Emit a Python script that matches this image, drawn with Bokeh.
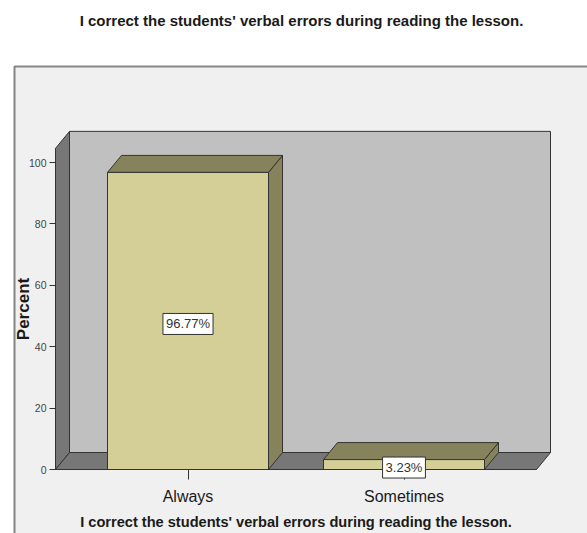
from bokeh.plotting import figure
from bokeh.models import Range1d, FixedTicker, BoxAnnotation, Label, ColumnDataSource
from bokeh.embed import file_html
from bokeh.resources import INLINE

# ---- data ----
title_text = "I correct the students' verbal errors during reading the lesson."
categories = ["Always", "Sometimes"]
percents = [96.77, 3.23]
y_ticks = [0, 20, 40, 60, 80, 100]

W, H = 587, 533
# pixel placement of the value scale: category 0 at X0, 216 px per category,
# zero percent at Y0, 3.07 px per percent
X0, XS = 187.5, 216.0
Y0, YS = 469.0, 3.07


def px_x(px):
    return (px - X0) / XS


def px_y(py):
    return (Y0 - py) / YS


# ---- 3-D box geometry (axis units) ----
x_lo, x_hi = px_x(55), px_x(536)  # front floor edge
wall_top = 104.6                  # height of the walls
half_w = 80.5 / XS                # half bar width
dx, dy = 14 / XS, 17 / YS         # depth offset

FRONT = "#d3cf97"
SHADE = "#86825c"
WALL = "#c0c0c0"
SIDE = "#777777"
EDGE = "#333333"
FONT = "Liberation Sans"

p = figure(width=W, height=H, output_backend="svg", toolbar_location=None,
           x_range=Range1d(px_x(0), px_x(W)), y_range=Range1d(px_y(H), px_y(0)),
           min_border=0)
p.background_fill_color = "white"
p.border_fill_color = "white"
p.outline_line_color = None
p.grid.visible = False

# chart panel with its grey frame
p.add_layout(BoxAnnotation(left=14, right=700, top=66, bottom=700,
                           left_units="canvas", right_units="canvas",
                           top_units="canvas", bottom_units="canvas",
                           fill_color="#f0f0f0", fill_alpha=1.0,
                           line_color="#858585", line_alpha=1.0, line_width=2,
                           level="underlay"))

# walls and floor
p.quad(left=[x_lo + dx], right=[x_hi + dx], bottom=[dy], top=[wall_top + dy],
       fill_color=WALL, line_color=EDGE, line_width=1)
p.patch([x_lo, x_lo, x_lo + dx, x_lo + dx], [0, wall_top, wall_top + dy, dy],
        fill_color=SIDE, line_color=EDGE, line_width=1)
p.patch([x_lo, x_hi, x_hi + dx, x_lo + dx], [0, 0, dy, dy],
        fill_color=SIDE, line_color=EDGE, line_width=1)

# bars: side, top, front
idx = list(range(len(categories)))
side_xs, side_ys, top_xs, top_ys = [], [], [], []
for i, v in zip(idx, percents):
    l, r = i - half_w, i + half_w
    side_xs.append([r, r, r + dx, r + dx])
    side_ys.append([0, v, v + dy, dy])
    top_xs.append([l, r, r + dx, l + dx])
    top_ys.append([v, v, v + dy, v + dy])
p.patches(side_xs, side_ys, fill_color=SHADE, line_color=EDGE, line_width=1)
p.patches(top_xs, top_ys, fill_color=SHADE, line_color=EDGE, line_width=1)
src = ColumnDataSource(dict(x=idx, top=percents,
                            left=[i - half_w for i in idx], right=[i + half_w for i in idx]))
p.quad(left="left", right="right", bottom=0, top="top", source=src,
       fill_color=FRONT, line_color=EDGE, line_width=1)

# value labels
for i, v in zip(idx, percents):
    p.add_layout(Label(x=i, y=v / 2, y_offset=-3, text=f"{v:.2f}%",
                       text_align="center", text_baseline="middle",
                       text_font=FONT, text_font_size="13px", text_color="#333333",
                       background_fill_color="white", border_line_color=EDGE,
                       border_line_width=1, padding=3, level="overlay"))

# chart title
p.add_layout(Label(x=px_x(301), y=px_y(20), text=title_text,
                   text_align="center", text_baseline="middle",
                   text_font=FONT, text_font_size="15px", text_font_style="bold",
                   text_color="#1a1a1a"))

# y axis, standing on the front edge of the left wall
ya = p.yaxis[0]
ya.fixed_location = x_lo
ya.ticker = FixedTicker(ticks=y_ticks)
ya.bounds = (0, wall_top)
ya.axis_line_color = EDGE
ya.major_tick_line_color = EDGE
ya.major_tick_out = 6
ya.major_tick_in = 0
ya.minor_tick_line_color = None
ya.major_label_text_font = FONT
ya.major_label_text_font_size = "10.5px"
ya.major_label_text_color = "#444444"
ya.major_label_standoff = 3
ya.axis_label = "Percent"
ya.axis_label_text_font = FONT
ya.axis_label_text_font_size = "17px"
ya.axis_label_text_font_style = "bold"
ya.axis_label_text_color = "#1a1a1a"
ya.axis_label_standoff = -7

# x axis along the front edge of the floor
xa = p.xaxis[0]
xa.fixed_location = 0
xa.ticker = FixedTicker(ticks=idx)
xa.major_label_overrides = {i: c for i, c in zip(idx, categories)}
xa.bounds = (x_lo, x_hi)
xa.axis_line_color = EDGE
xa.major_tick_line_color = EDGE
xa.major_tick_out = 10
xa.major_tick_in = 0
xa.minor_tick_line_color = None
xa.major_label_text_font = FONT
xa.major_label_text_font_size = "16px"
xa.major_label_text_color = "#1a1a1a"
xa.major_label_standoff = 8
xa.axis_label = title_text
xa.axis_label_text_font = FONT
xa.axis_label_text_font_size = "14.6px"
xa.axis_label_text_font_style = "bold"
xa.axis_label_text_color = "#1a1a1a"
xa.axis_label_standoff = 6

open("out.html", "w").write(file_html(p, INLINE))
